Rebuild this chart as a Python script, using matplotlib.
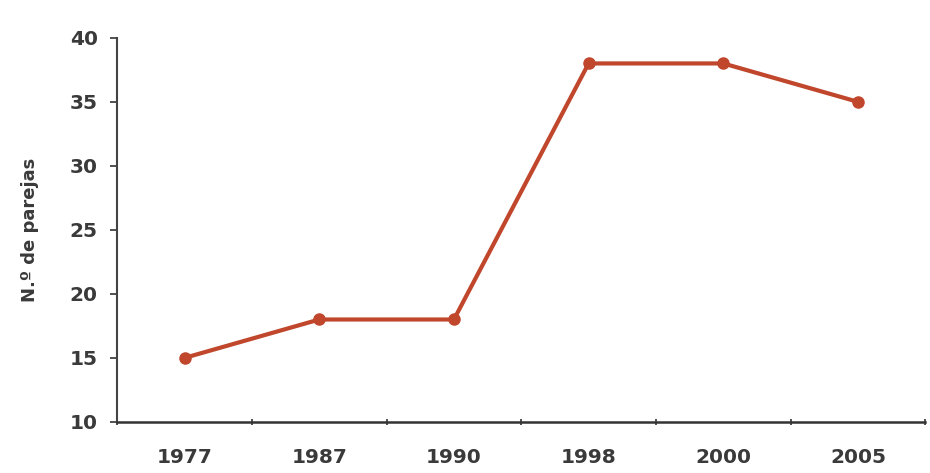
import matplotlib
matplotlib.use("Agg")
import matplotlib.pyplot as plt
import numpy as np

#data
years = ["1977", "1987", "1990", "1998", "2000", "2005"]
parejas = [15, 18, 18, 38, 38, 35]

line_color = "#c0462c"
text_color = "#3a3a3a"

plt.rcParams['font.family'] = ['DejaVu Sans']

fig = plt.figure(figsize=(9.3, 4.73), dpi=100)
ax = fig.add_axes([0.126, 0.108, 0.869, 0.812])

x = np.arange(len(years))
ax.plot(x, parejas, color=line_color, linewidth=3, marker="o", markersize=8,
        markerfacecolor=line_color, markeredgecolor=line_color)

ax.set_xlim(-0.5, len(years) - 0.5)
ax.set_ylim(10, 40)
ax.set_yticks(range(10, 41, 5))
ax.set_xticks(x)
ax.set_xticklabels(years)
ax.set_xticks(np.arange(-0.5, len(years), 1), minor=True)

ax.tick_params(axis="x", which="major", length=0, pad=19, labelsize=14.5, labelcolor=text_color)
ax.tick_params(axis="x", which="minor", length=5, width=1.2, direction="inout", color="#333333")
ax.tick_params(axis="y", length=5, width=1.2, direction="out", pad=9, labelsize=14.5,
               labelcolor=text_color, color="#333333")
for lab in ax.get_xticklabels() + ax.get_yticklabels():
    lab.set_fontweight("bold")

ax.spines["top"].set_visible(False)
ax.spines["right"].set_visible(False)
ax.spines["left"].set_linewidth(1.5)
ax.spines["bottom"].set_linewidth(1.8)
ax.spines["left"].set_color("#444444")
ax.spines["bottom"].set_color("#333333")

ax.set_ylabel("N.º de parejas", fontsize=13, fontweight="bold", color=text_color, labelpad=22)

fig.savefig("out.png", dpi=100)
